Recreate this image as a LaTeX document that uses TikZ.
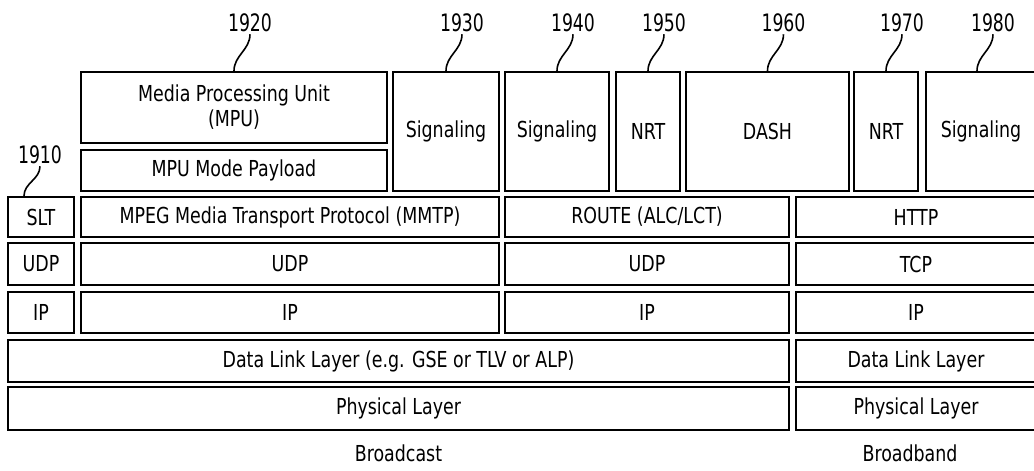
\documentclass[tikz,border=0pt]{standalone}
\usepackage{fontspec}
\setmainfont{DejaVu Sans Condensed}[FakeStretch=0.88]
\newfontfamily\numfont{DejaVu Sans Condensed}[FakeStretch=0.8]
\usetikzlibrary{positioning}
\tikzset{
  layer/.style={draw, line width=2pt, inner sep=0pt, align=center},
  refnum/.style={inner sep=2pt, font=\numfont\fontsize{24}{26}\selectfont},
  leader/.style={line width=1.6pt},
}

\begin{document}
\begin{tikzpicture}[x=1pt,y=1pt,font=\fontsize{22}{25}\selectfont]
\useasboundingbox (0,0) rectangle (1034,471);
\clip (0,0) rectangle (1034,471);
% top row
\node[layer,minimum width=306pt,minimum height=71pt] (mpu) at (234,363.5) {Media Processing Unit\\(MPU)};
\node[layer,minimum width=306pt,minimum height=41pt] (mpl) at (234,300.5) {MPU Mode Payload};
\node[layer,minimum width=106pt,minimum height=119pt] (sigA) at (446,339.5) {Signaling};
\node[layer,minimum width=104pt,minimum height=119pt] (sigB) at (557,339.5) {Signaling};
\node[layer,minimum width=64pt,minimum height=119pt] (nrtA) at (648,339.5) {NRT};
\node[layer,minimum width=163pt,minimum height=119pt] (dash) at (767.5,339.5) {DASH};
\node[layer,minimum width=64pt,minimum height=119pt] (nrtB) at (886,339.5) {NRT};
\node[layer,minimum width=110pt,minimum height=119pt] (sigC) at (981,339.5) {Signaling};
% transport row
\node[layer,minimum width=66pt,minimum height=40pt] (slt) at (41,254) {SLT};
\node[layer,minimum width=418pt,minimum height=40pt] (mmtp) at (290,254) {MPEG Media Transport Protocol (MMTP)};
\node[layer,minimum width=284pt,minimum height=40pt] (route) at (647,254) {ROUTE (ALC/LCT)};
\node[layer,minimum width=240pt,minimum height=40pt] (http) at (916,254) {HTTP};
% UDP / TCP
\node[layer,minimum width=66pt,minimum height=42pt] (udpA) at (41,207) {UDP};
\node[layer,minimum width=418pt,minimum height=42pt] (udpB) at (290,207) {UDP};
\node[layer,minimum width=284pt,minimum height=42pt] (udpC) at (647,207) {UDP};
\node[layer,minimum width=240pt,minimum height=42pt] (tcp) at (916,207) {TCP};
% IP
\node[layer,minimum width=66pt,minimum height=41pt] (ipA) at (41,158.5) {IP};
\node[layer,minimum width=418pt,minimum height=41pt] (ipB) at (290,158.5) {IP};
\node[layer,minimum width=284pt,minimum height=41pt] (ipC) at (647,158.5) {IP};
\node[layer,minimum width=240pt,minimum height=41pt] (ipD) at (916,158.5) {IP};
% link and physical
\node[layer,minimum width=781pt,minimum height=42pt] (dllA) at (398.5,110) {Data Link Layer (e.g. GSE or TLV or ALP)};
\node[layer,minimum width=240pt,minimum height=42pt] (dllB) at (916,110) {Data Link Layer};
\node[layer,minimum width=781pt,minimum height=43pt] (phyA) at (398.5,62.5) {Physical Layer};
\node[layer,minimum width=240pt,minimum height=43pt] (phyB) at (916,62.5) {Physical Layer};
\node (bcast) [below=10pt of phyA] {Broadcast};
\node (bband) [below=10pt of phyB, xshift=-6pt] {Broadband};
% reference numerals
\coordinate (s1910) at ([xshift=-17pt]slt.north);
\node[refnum] (l1910) at ([shift={(16,41)}]s1910) {1910};
\node[refnum] (l1920) at ([shift={(16,48)}]mpu.north) {1920};
\node[refnum] (l1930) at ([shift={(16,48)}]sigA.north) {1930};
\node[refnum] (l1940) at ([shift={(16,48)}]sigB.north) {1940};
\node[refnum] (l1950) at ([shift={(16,48)}]nrtA.north) {1950};
\node[refnum] (l1960) at ([shift={(16,48)}]dash.north) {1960};
\node[refnum] (l1970) at ([shift={(16,48)}]nrtB.north) {1970};
\node[refnum] (l1980) at ([shift={(12,48)}]sigC.north) {1980};
\draw[leader] (s1910) to[out=90,in=-90] (l1910.south);
\foreach \b/\l in {mpu/l1920,sigA/l1930,sigB/l1940,nrtA/l1950,dash/l1960,nrtB/l1970}
  \draw[leader] (\b.north) to[out=90,in=-90] (\l.south);
\draw[leader] ([xshift=-4pt]sigC.north) to[out=90,in=-90] (l1980.south);
\end{tikzpicture}
\end{document}
